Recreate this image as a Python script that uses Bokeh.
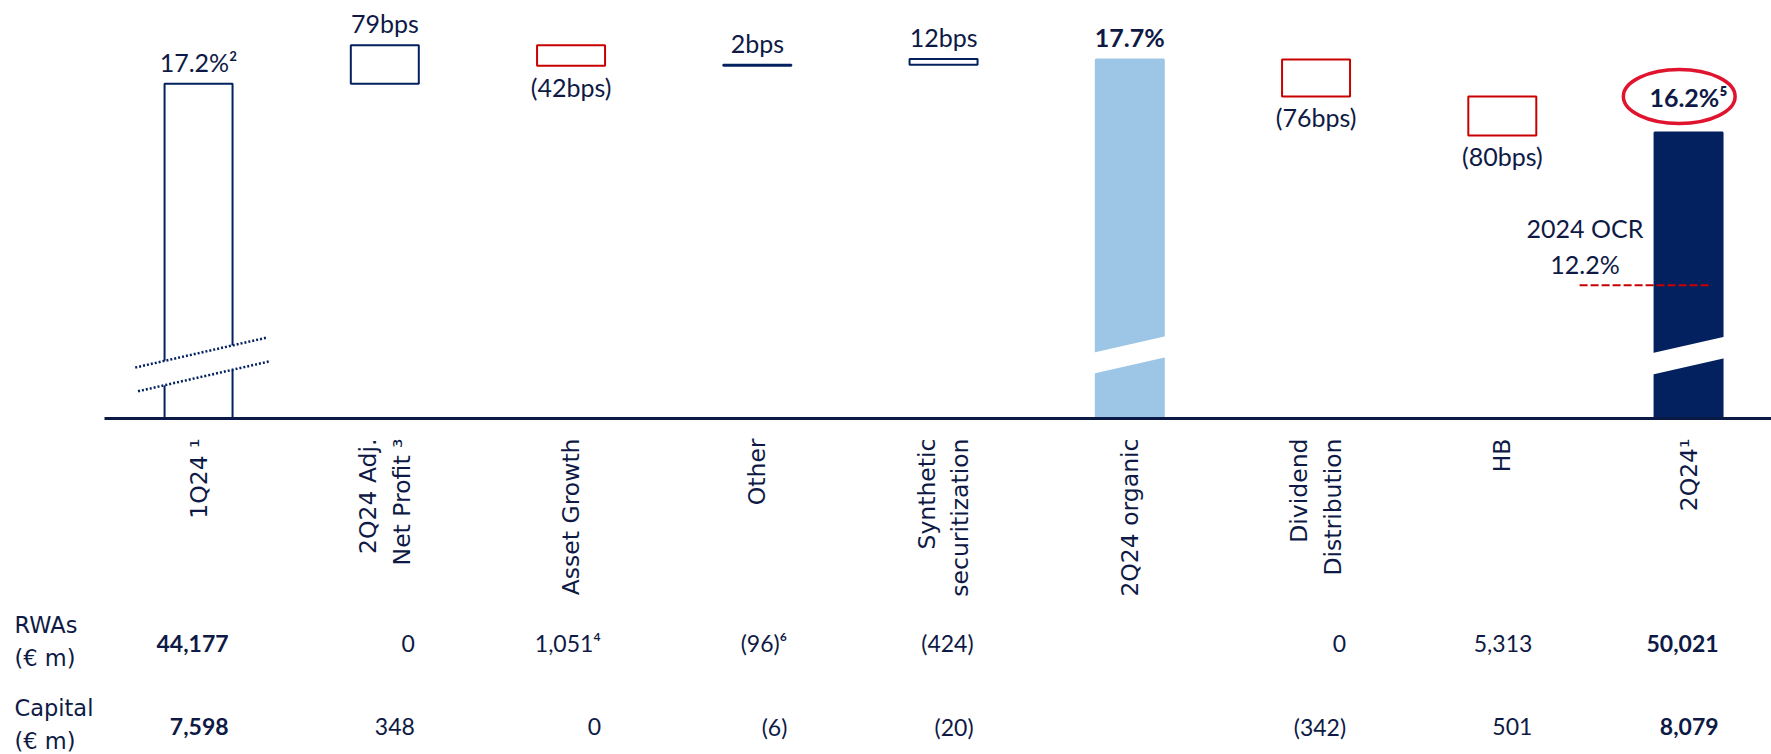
import math
from bokeh.plotting import figure
from bokeh.models import Range1d, FixedTicker, ColumnDataSource
from bokeh.layouts import column
from bokeh.embed import file_html
from bokeh.resources import INLINE
from bokeh.core.properties import value

# ---------------- data ----------------
categories = ["1Q24 \u00b9", "2Q24 Adj.\nNet Profit \u00b3", "Asset Growth", "Other",
              "Synthetic\nsecuritization", "2Q24 organic", "Dividend\nDistribution", "HB", "2Q24\u00b9"]
kinds = ["total", "delta", "delta", "delta", "delta", "total", "delta", "delta", "total"]
ratio_values = [17.2, 0.79, -0.42, 0.02, 0.12, 17.7, -0.76, -0.80, 16.2]   # CET1 %, deltas in pp
value_labels = ["17.2%\u00b2", "79bps", "(42bps)", "2bps", "12bps", "17.7%", "(76bps)", "(80bps)", "16.2%\u2075"]
rwa_labels = ["44,177", "0", "1,051\u2074", "(96)\u2076", "(424)", "", "0", "5,313", "50,021"]
capital_labels = ["7,598", "348", "0", "(6)", "(20)", "", "(342)", "501", "8,079"]
row_labels = ["RWAs\n(\u20ac m)", "Capital\n(\u20ac m)"]
ocr_value = 12.2
ocr_label = "2024 OCR\n12.2%"

# ---------------- style ----------------
NAVY = "#03215F"
LIGHT = "#9DC6E6"
RED = "#C80000"
RING = "#E0142F"
TEXT = "#0E1A45"
AXIS = "#0B1A44"

W = 1771
H1, H2 = 612, 141
BORDER_L, BORDER_B = 104, 194
X_START = -0.505
PPU = 186.25
X_END = X_START + (W - BORDER_L) / PPU
FRAME_H = H1 - BORDER_B
PX_PER_PCT = 48.7
Y0 = 10.328
Y1 = Y0 + FRAME_H / PX_PER_PCT
BAR_W = 0.365

n = len(categories)
idx = list(range(n))

# waterfall geometry
bottoms, tops, fills, lines = [], [], [], []
running = None
total_count = kinds.count("total")
seen_total = 0
for k, v in zip(kinds, ratio_values):
    if k == "total":
        seen_total += 1
        running = v
        bottoms.append(Y0)
        tops.append(v)
        if seen_total == 1:
            fills.append("white"); lines.append(NAVY)
        elif seen_total == total_count:
            fills.append(NAVY); lines.append(NAVY)
        else:
            fills.append(LIGHT); lines.append(LIGHT)
    else:
        s, e = running, running + v
        bottoms.append(min(s, e)); tops.append(max(s, e))
        running = e
        fills.append("white")
        lines.append(RED if v < 0 else NAVY)

p = figure(width=W, height=H1, output_backend="svg", toolbar_location=None,
           x_range=Range1d(X_START, X_END), y_range=Range1d(Y0, Y1),
           min_border_left=BORDER_L, min_border_right=0, min_border_top=0,
           min_border_bottom=BORDER_B, outline_line_color=None,
           background_fill_color="white", border_fill_color="white")
p.yaxis.visible = False
p.xgrid.visible = False
p.ygrid.visible = False

src = ColumnDataSource(dict(x=idx, bottom=bottoms, top=tops, fill=fills, line=lines))
p.vbar(x="x", width=BAR_W, bottom="bottom", top="top", source=src,
       fill_color="fill", line_color="line", line_width=2)

# broken-axis marks on the total bars
SLOPE = 0.87
total_idx = [i for i, k in enumerate(kinds) if k == "total"]
break_up = {total_idx[0]: 11.67, total_idx[1]: 11.85, total_idx[2]: 11.84}
break_lo = {total_idx[0]: 11.17, total_idx[1]: 11.42, total_idx[2]: 11.40}
gx, gy = [], []
for i in total_idx:
    a, b = -0.21, 0.21
    gx.append([i + a, i + b, i + b, i + a])
    gy.append([break_up[i] + SLOPE * a, break_up[i] + SLOPE * b,
               break_lo[i] + SLOPE * b, break_lo[i] + SLOPE * a])
p.patches(xs=gx, ys=gy, fill_color="white", line_color=None)
i0 = total_idx[0]
p.segment(x0=[i0 - 0.34, i0 - 0.325], y0=[break_up[i0] - SLOPE * 0.34, break_lo[i0] - SLOPE * 0.325],
          x1=[i0 + 0.365, i0 + 0.387], y1=[break_up[i0] + SLOPE * 0.365, break_lo[i0] + SLOPE * 0.387],
          line_color=NAVY, line_width=2.5, line_dash="2 2")

# OCR marker (drawn on its own display range, like the original slide)
OCR_SHIFT = 42 / PX_PER_PCT
p.extra_y_ranges = {"ocr": Range1d(Y0 - OCR_SHIFT, Y1 - OCR_SHIFT)}
last = n - 1
p.segment(x0=[last - 0.585], y0=[ocr_value], x1=[last + 0.125], y1=[ocr_value],
          y_range_name="ocr", line_color=RED, line_width=2, line_dash="8 3")
p.text(x=[last - 0.556], y=[ocr_value], text=[ocr_label], y_range_name="ocr",
       text_align="center", text_baseline="bottom", y_offset=-6,
       text_font=value("Lato"), text_font_size="25px", text_color=TEXT, text_line_height=1.2)

# value labels
lx, ly, loff, lstyle = [], [], [], []
for i, (k, v) in enumerate(zip(kinds, ratio_values)):
    lx.append(i)
    if k == "total":
        ly.append(tops[i])
        loff.append(-36 if i == last else -22)
        lstyle.append("normal" if i == total_idx[0] else "bold")
    elif v < 0:
        ly.append(bottoms[i]); loff.append(21); lstyle.append("normal")
    else:
        ly.append(tops[i]); loff.append(-22); lstyle.append("normal")
lsrc = ColumnDataSource(dict(x=lx, y=ly, t=value_labels, off=loff, st=lstyle))
p.text(x="x", y="y", text="t", y_offset="off", text_font_style="st", source=lsrc,
       text_align="center", text_baseline="middle", text_font=value("Lato"),
       text_font_size="25px", text_color=TEXT)

# ring around the final ratio
ring_y = tops[last] + 36 / PX_PER_PCT
p.ellipse(x=[last - 0.05], y=[ring_y], width=0.6, height=54 / PX_PER_PCT,
          fill_color=None, line_color=RING, line_width=3.5)

# x axis
ax = p.xaxis[0]
ax.ticker = FixedTicker(ticks=idx)
ax.major_label_overrides = {i: c for i, c in zip(idx, categories)}
ax.major_label_orientation = math.pi / 2
ax.axis_line_color = AXIS
ax.axis_line_width = 3
ax.major_tick_line_color = None
ax.minor_tick_line_color = None
ax.major_label_standoff = 14
ax.major_label_text_font = "DejaVu Sans"
ax.major_label_text_font_size = "23.5px"
ax.major_label_text_color = TEXT
ax.major_label_text_align = "center"

# ---------------- table ----------------
X2_START = X_START - BORDER_L / PPU
p2 = figure(width=W, height=H2, output_backend="svg", toolbar_location=None,
            x_range=Range1d(X2_START, X_END), y_range=Range1d(-0.325, 1.373),
            min_border_left=0, min_border_right=0, min_border_top=0, min_border_bottom=0,
            outline_line_color=None)
p2.xaxis.visible = False
p2.yaxis.visible = False
p2.xgrid.visible = False
p2.ygrid.visible = False
for fig in (p, p2):
    try:
        fig.frame_align = False
    except Exception:
        pass

row_y = [1, 0]
p2.text(x=[X2_START, X2_START], y=row_y, text=row_labels, x_offset=14, y_offset=-2,
        text_align="left", text_baseline="middle", text_font=value("DejaVu Sans"),
        text_font_size="22.5px", text_color=TEXT, text_line_height=1.3)

bold_cols = [total_idx[0], last]
tx, ty, tt, ts = [], [], [], []
for r, labels in zip(row_y, [rwa_labels, capital_labels]):
    for i, t in enumerate(labels):
        tx.append(i + 30 / PPU); ty.append(r); tt.append(t)
        ts.append("bold" if i in bold_cols else "normal")
tsrc = ColumnDataSource(dict(x=tx, y=ty, t=tt, st=ts))
p2.text(x="x", y="y", text="t", text_font_style="st", source=tsrc,
        text_align="right", text_baseline="middle", text_font=value("Lato"),
        text_font_size="23px", text_color=TEXT)

layout = column(p, p2, spacing=0)
open("out.html", "w").write(file_html(layout, INLINE))
